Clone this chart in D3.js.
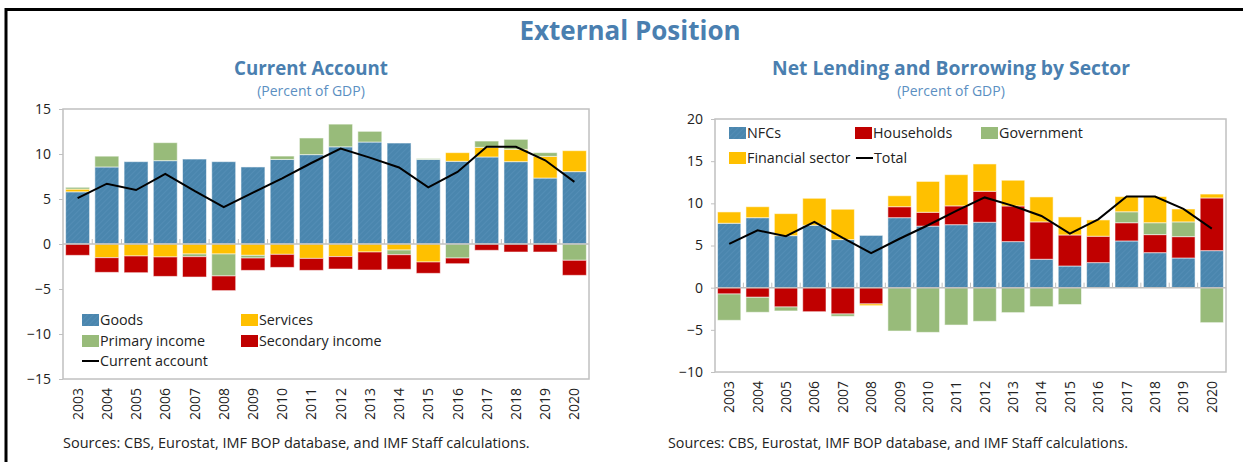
<!DOCTYPE html>
<html>
<head>
<meta charset="utf-8">
<script src="https://cdn.jsdelivr.net/npm/d3@7"></script>
<style>
body { margin: 0; background: #fff; }
text { font-family: "Open Sans", "DejaVu Sans", sans-serif; }
</style>
</head>
<body>
<script>
// categories
const years = ["2003", "2004", "2005", "2006", "2007", "2008", "2009", "2010", "2011",
    "2012", "2013", "2014", "2015", "2016", "2017", "2018", "2019", "2020"];

// current account (percent of GDP)
const goods = [5.8, 8.56, 9.15, 9.26, 9.44, 9.15, 8.56, 9.4, 9.93, 10.8, 11.33, 11.22, 9.4, 9.19, 9.67, 9.15, 7.33, 8.04];
const services = [0.3, -1.52, -1.33, -1.44, -1.11, -1.11, -1.26, -1.15, -1.6, -1.4, -0.89, -0.67, -2.0, 0.96, 1.07, 1.37, 2.41, 2.33];
const primaryIncome = [0.2, 1.2, 0, 2.0, -0.3, -2.44, -0.3, 0.37, 1.85, 2.52, 1.19, -0.52, 0.1, -1.56, 0.7, 1.11, 0.41, -1.81];
const secondaryIncome = [-1.26, -1.63, -1.86, -2.16, -2.26, -1.63, -1.37, -1.45, -1.33, -1.38, -2.0, -1.62, -1.26, -0.63, -0.7, -0.89, -0.89, -1.67];
const currentAccount = [5.1, 6.7, 6.0, 7.8, 5.9, 4.1, 5.7, 7.3, 9.0, 10.6, 9.6, 8.5, 6.3, 8.0, 10.8, 10.8, 9.3, 6.9];

// net lending / borrowing by sector (percent of GDP)
const nfcs = [7.64, 8.3, 6.17, 7.4, 5.7, 6.2, 8.3, 7.3, 7.47, 7.76, 5.46, 3.37, 2.57, 2.97, 5.54, 4.15, 3.52, 4.39];
const households = [-0.75, -1.14, -2.29, -2.85, -3.12, -1.93, 1.3, 1.64, 2.23, 3.67, 4.23, 4.43, 3.68, 3.13, 2.16, 2.14, 2.53, 6.25];
const government = [-3.12, -1.78, -0.47, 0, -0.28, 0, -5.14, -5.3, -4.43, -3.99, -2.96, -2.25, -2.0, 0, 1.3, 1.41, 1.75, -4.15];
const financialSector = [1.34, 1.3, 2.61, 3.2, 3.6, -0.2, 1.3, 3.66, 3.7, 3.24, 3.05, 2.96, 2.14, 1.93, 1.8, 3.1, 1.53, 0.46];
const total = [5.2, 6.8, 6.1, 7.8, 5.9, 4.1, 5.8, 7.4, 9.1, 10.7, 9.7, 8.5, 6.4, 8.1, 10.8, 10.8, 9.35, 7.0];

// tick labels
const leftTicks = [-15, -10, -5, 0, 5, 10, 15];
const rightTicks = [-10, -5, 0, 5, 10, 15, 20];

const titleBlue = "#4a7fb0";
const blue = "url(#hatch)", yellow = "#ffc000", green = "#98bb7a", red = "#c00000";
const grey = "#c0c0c0";

const svg = d3.select("body").append("svg")
    .attr("width", 1243)
    .attr("height", 462);

// subtle diagonal hatching on the blue bars
const pat = svg.append("defs").append("pattern")
    .attr("id", "hatch")
    .attr("patternUnits", "userSpaceOnUse")
    .attr("width", 4).attr("height", 4)
    .attr("patternTransform", "rotate(45)");
pat.append("rect").attr("width", 4).attr("height", 4).attr("fill", "#4a86ae");
pat.append("line").attr("x1", 0).attr("y1", 0).attr("x2", 0).attr("y2", 4)
    .attr("stroke", "#5690b8").attr("stroke-width", 1.5);

// frame
svg.append("line").attr("x1", 5).attr("x2", 1243).attr("y1", 9.5).attr("y2", 9.5)
    .attr("stroke", "#000").attr("stroke-width", 3);
svg.append("line").attr("x1", 6).attr("x2", 6).attr("y1", 8).attr("y2", 462)
    .attr("stroke", "#000").attr("stroke-width", 3);

svg.append("text")
    .attr("x", 630).attr("y", 40)
    .attr("text-anchor", "middle")
    .attr("font-size", "26px").attr("font-weight", "bold")
    .attr("fill", titleBlue)
    .text("External Position");

function drawPanel(p) {
    const g = svg.append("g");

    g.append("text")
        .attr("x", p.titleX).attr("y", 75)
        .attr("text-anchor", "middle")
        .attr("font-size", p.titleSize).attr("font-weight", "bold")
        .attr("fill", titleBlue)
        .text(p.title);
    g.append("text")
        .attr("x", p.titleX).attr("y", 96)
        .attr("text-anchor", "middle")
        .attr("font-size", "14px")
        .attr("fill", "#5b8fc2")
        .text("(Percent of GDP)");

    const x = d3.scaleBand()
        .domain(years)
        .range([p.left, p.right])
        .paddingInner(0.18)
        .paddingOuter(0.09);
    const y = d3.scaleLinear()
        .domain(p.domain)
        .range([p.bottom, p.top]);

    // plot box
    g.append("rect")
        .attr("x", p.left).attr("y", p.top)
        .attr("width", p.right - p.left).attr("height", p.bottom - p.top)
        .attr("fill", "none").attr("stroke", grey).attr("stroke-width", 1.5);

    // y axis
    const yAxis = g.append("g")
        .attr("transform", `translate(${p.left},0)`)
        .call(d3.axisLeft(y).tickValues(p.ticks).tickSize(4).tickPadding(8));
    yAxis.select(".domain").remove();
    yAxis.selectAll("line").attr("stroke", grey);
    yAxis.selectAll("text").attr("font-size", "14px").attr("fill", "#222")
        .style("font-family", "'Open Sans', sans-serif");

    // stacked bars
    const rows = years.map((yr, i) => {
        const r = {year: yr};
        p.series.forEach(s => r[s.key] = s.values[i]);
        return r;
    });
    const stacked = d3.stack()
        .keys(p.series.map(s => s.key))
        .offset(d3.stackOffsetDiverging)(rows);

    g.selectAll(".layer")
        .data(stacked)
        .enter().append("g")
        .attr("fill", d => p.series[d.index].color)
        .selectAll("rect")
        .data(d => d.filter(v => v[1] !== v[0]))
        .enter().append("rect")
        .attr("x", d => x(d.data.year))
        .attr("width", x.bandwidth())
        .attr("y", d => y(d[1]))
        .attr("height", d => y(d[0]) - y(d[1]))
        .attr("stroke", "rgba(255,255,255,0.55)")
        .attr("stroke-width", 1);

    // zero line with category ticks
    g.append("line")
        .attr("x1", p.left).attr("x2", p.right)
        .attr("y1", y(0)).attr("y2", y(0))
        .attr("stroke", grey).attr("stroke-width", 1.5);
    g.selectAll(".cat-tick")
        .data(years.slice(1))
        .enter().append("line")
        .attr("x1", d => x(d) - x.step() * x.paddingInner() / 2)
        .attr("x2", d => x(d) - x.step() * x.paddingInner() / 2)
        .attr("y1", y(0)).attr("y2", y(0) - 5)
        .attr("stroke", grey);

    // total line
    const line = d3.line()
        .x((d, i) => x(years[i]) + x.bandwidth() / 2)
        .y(d => y(d));
    g.append("path")
        .datum(p.lineValues)
        .attr("d", line)
        .attr("fill", "none")
        .attr("stroke", "#000")
        .attr("stroke-width", 2);

    // year labels
    g.selectAll(".year")
        .data(years)
        .enter().append("text")
        .attr("transform", d => `translate(${x(d) + x.bandwidth() / 2 + 5},${p.bottom + 9}) rotate(-90)`)
        .attr("text-anchor", "end")
        .attr("font-size", "14px")
        .attr("fill", "#222")
        .text(d => d);

    // legend
    p.legend.forEach(l => {
        if (l.line) {
            g.append("line")
                .attr("x1", l.x).attr("x2", l.x + 17)
                .attr("y1", l.y).attr("y2", l.y)
                .attr("stroke", "#000").attr("stroke-width", 2);
        } else {
            g.append("rect")
                .attr("x", l.x).attr("y", l.y - 6)
                .attr("width", 17).attr("height", 12)
                .attr("fill", l.color);
        }
        g.append("text")
            .attr("x", l.x + 18).attr("y", l.y + 5)
            .attr("font-size", "14.3px")
            .attr("fill", "#222")
            .text(l.label);
    });

    g.append("text")
        .attr("x", p.sourceX).attr("y", 448)
        .attr("font-size", p.sourceSize)
        .attr("fill", "#222")
        .text("Sources: CBS, Eurostat, IMF BOP database, and IMF Staff calculations.");
}

drawPanel({
    title: "Current Account",
    titleX: 311, titleSize: "18.7px",
    left: 63, right: 589, top: 109, bottom: 379,
    domain: [-15, 15],
    ticks: leftTicks,
    series: [
        {key: "goods", values: goods, color: blue},
        {key: "services", values: services, color: yellow},
        {key: "primary", values: primaryIncome, color: green},
        {key: "secondary", values: secondaryIncome, color: red}
    ],
    lineValues: currentAccount,
    legend: [
        {label: "Goods", color: blue, x: 82, y: 320},
        {label: "Services", color: yellow, x: 241, y: 320},
        {label: "Primary income", color: green, x: 82, y: 341},
        {label: "Secondary income", color: red, x: 241, y: 341},
        {label: "Current account", line: true, x: 82, y: 361}
    ],
    sourceX: 63, sourceSize: "14.5px"
});

drawPanel({
    title: "Net Lending and Borrowing by Sector",
    titleX: 951, titleSize: "19.3px",
    left: 715, right: 1226, top: 119, bottom: 372,
    domain: [-10, 20],
    ticks: rightTicks,
    series: [
        {key: "nfcs", values: nfcs, color: blue},
        {key: "households", values: households, color: red},
        {key: "government", values: government, color: green},
        {key: "financial", values: financialSector, color: yellow}
    ],
    lineValues: total,
    legend: [
        {label: "NFCs", color: blue, x: 729, y: 133},
        {label: "Households", color: red, x: 855, y: 133},
        {label: "Government", color: green, x: 981, y: 133},
        {label: "Financial sector", color: yellow, x: 729, y: 158},
        {label: "Total", line: true, x: 856, y: 158}
    ],
    sourceX: 668, sourceSize: "14.3px"
});
</script>
</body>
</html>
